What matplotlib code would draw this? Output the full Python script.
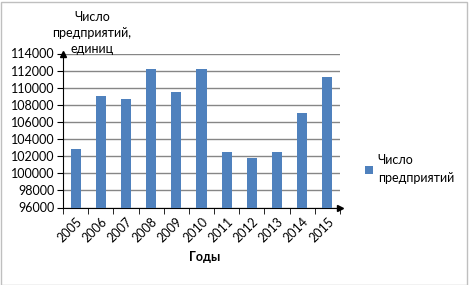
import numpy as np
import matplotlib
matplotlib.use("Agg")
from matplotlib import pyplot as plt
from matplotlib.patches import Rectangle

# data
years = ["2005", "2006", "2007", "2008", "2009", "2010",
         "2011", "2012", "2013", "2014", "2015"]
counts = [102800, 109000, 108700, 112200, 109500, 112200,
          102500, 101800, 102500, 107000, 111300]
y_ticks = np.arange(96000, 114001, 2000)

plt.rcParams['font.family'] = ['Lato', 'DejaVu Sans']
plt.rcParams['font.size'] = 9

bar_color = "#4F81BD"
W, H = 469, 285

fig = plt.figure(figsize=(W / 100, H / 100), dpi=100)
ax = fig.add_axes([63 / W, 1 - 207.5 / H, (340 - 63) / W, (207.5 - 53.5) / H])

x = np.arange(len(years))
ax.bar(x, counts, width=0.4, color=bar_color, zorder=3, label="Число\nпредприятий")

ax.set_xlim(-0.5, len(years) - 0.5)
ax.set_ylim(96000, 114000)
ax.set_yticks(y_ticks)
ax.set_yticklabels([str(v) for v in y_ticks])
ax.yaxis.grid(True, color="#868686", linewidth=1.0, zorder=0)

# x ticks: labels at centers, tick marks at boundaries
ax.set_xticks(x)
ax.set_xticklabels(years, rotation=45, ha="right", rotation_mode="anchor")
ax.tick_params(axis="x", length=0, pad=6)
ax.set_xticks(np.arange(-0.5, len(years), 1.0), minor=True)
ax.tick_params(axis="x", which="minor", length=4, color="black")
ax.tick_params(axis="y", length=4, color="black", pad=2)

for s in ["top", "right"]:
    ax.spines[s].set_visible(False)
ax.spines["left"].set_color("black")
ax.spines["bottom"].set_color("black")

# axis arrows
ax.plot([-0.5], [114000], marker="^", color="black", markersize=5,
        clip_on=False, transform=ax.transData, zorder=5)
ax.plot([1.0], [0.0], marker=">", color="black", markersize=5,
        clip_on=False, transform=ax.transAxes, zorder=5)

# axis titles
fig.text(92 / W, 1 - 33 / H, "Число\nпредприятий,\nединиц", ha="center", va="center",
         fontsize=9, linespacing=1.4)
fig.text(205 / W, 1 - 257 / H, "Годы", ha="center", va="center",
         fontsize=9, fontweight="bold")

# legend
leg = fig.legend(loc="center left", bbox_to_anchor=(354 / W, 1 - 169 / H), frameon=False,
                 handlelength=0.6, handleheight=0.6, handletextpad=0.4, fontsize=9)
for t in leg.get_texts():
    t.set_linespacing(1.5)

# outer frame
fig.patches.append(Rectangle((0.5 / W, 0.5 / H), (W - 2.5) / W, (H - 2.5) / H,
                             transform=fig.transFigure, fill=False,
                             edgecolor="#BFBFBF", linewidth=1))

fig.savefig("out.png", dpi=100)
